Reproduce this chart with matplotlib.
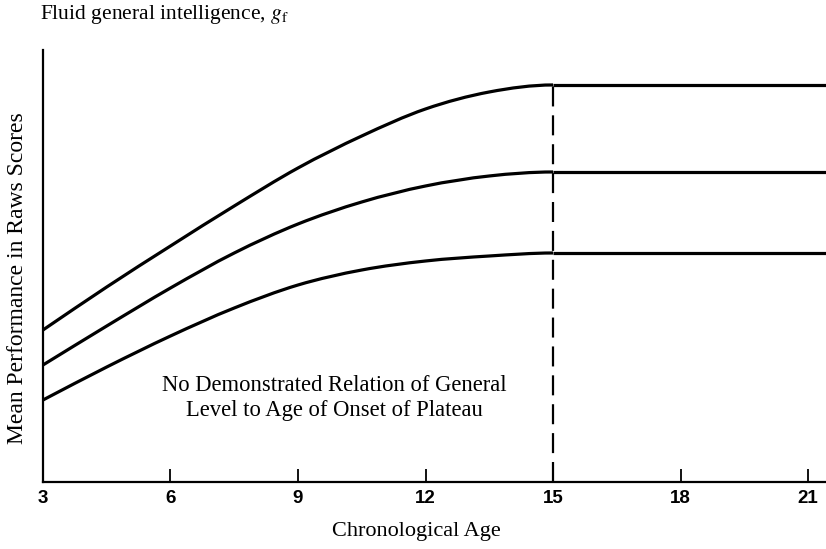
import numpy as np
import matplotlib
matplotlib.use("Agg")
import matplotlib.pyplot as plt
from matplotlib.path import Path
from matplotlib.patches import PathPatch

plt.rcParams["mathtext.fontset"] = "stix"

# ages (years) up to the plateau and mean raw performance for three ability levels
ages = [3, 4.5, 6, 7.5, 9, 10.5, 12, 13.5, 15]
high_level = [15.2, 19.5, 23.6, 27.6, 31.4, 34.6, 37.3, 39.0, 39.7]
mid_level = [11.7, 15.6, 19.4, 22.9, 25.8, 28.0, 29.6, 30.6, 31.0]
low_level = [8.2, 11.5, 14.6, 17.4, 19.7, 21.2, 22.1, 22.6, 22.9]

plateau_age = 15
last_age = 21.5
age_ticks = [3, 6, 9, 12, 15, 18, 21]

serif = ["Liberation Serif", "DejaVu Serif"]


def smooth_path(x, y):
    # Catmull-Rom through the points, written out as cubic Bezier segments;
    # the slope is flat at the last point where the plateau begins
    x = np.asarray(x, float)
    y = np.asarray(y, float)
    n = len(x)
    m = np.zeros(n)
    m[0] = (y[1] - y[0]) / (x[1] - x[0])
    m[1:-1] = (y[2:] - y[:-2]) / (x[2:] - x[:-2])
    m[-1] = 0.0
    verts = [(x[0], y[0])]
    codes = [Path.MOVETO]
    for i in range(n - 1):
        h = x[i + 1] - x[i]
        verts += [(x[i] + h / 3, y[i] + m[i] * h / 3),
                  (x[i + 1] - h / 3, y[i + 1] - m[i + 1] * h / 3),
                  (x[i + 1], y[i + 1])]
        codes += [Path.CURVE4] * 3
    return Path(verts, codes)


fig = plt.figure(figsize=(8.26, 5.49), dpi=100)
ax = fig.add_axes([0.052, 0.122, 0.948, 0.787])

for series in (high_level, mid_level, low_level):
    ax.add_patch(PathPatch(smooth_path(ages, series), fill=False,
                           edgecolor="black", lw=2.3))
    ax.plot([plateau_age, last_age], [series[-1], series[-1]],
            color="black", lw=2.3, solid_capstyle="butt")

ax.plot([plateau_age, plateau_age], [0, max(high_level)], color="black",
        lw=1.6, dashes=(9, 4))

ax.set_xlim(3, 21.42)
ax.set_ylim(0, 43.2)

for side in ("top", "right"):
    ax.spines[side].set_visible(False)
for side in ("left", "bottom"):
    ax.spines[side].set_linewidth(1.6)

ax.set_xticks(age_ticks)
ax.set_xticklabels([str(a) for a in age_ticks], fontsize=13.5, fontweight="bold",
                   family=["Liberation Sans", "DejaVu Sans"])
ax.tick_params(axis="x", direction="in", length=9.5, width=1.3, pad=6)
ax.set_yticks([])

ax.text(9.85, 8.4, "No Demonstrated Relation of General\nLevel to Age of Onset of Plateau",
        ha="center", va="center", fontsize=16.3, family=serif, linespacing=1.2)

fig.text(0.048, 0.974, "Fluid general intelligence, $g_\\mathrm{f}$", ha="left", va="center",
         fontsize=15.5, family=serif)
fig.text(0.021, 0.494, "Mean Performance in Raws Scores", rotation=90,
         ha="center", va="center", fontsize=17, family=serif)
fig.text(0.504, 0.031, "Chronological Age", ha="center", va="center",
         fontsize=16, family=serif)

fig.savefig("out.png", dpi=100)
